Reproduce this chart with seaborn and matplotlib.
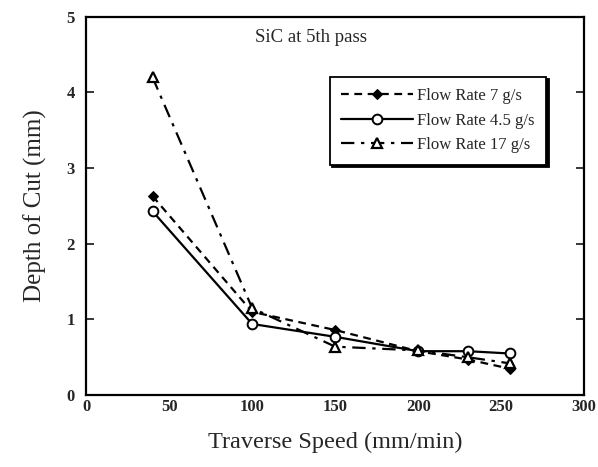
import matplotlib
matplotlib.use("Agg")
import matplotlib.pyplot as plt
import seaborn as sns
import pandas as pd

# Traverse speed (mm/min) and depth of cut (mm) for each abrasive flow rate
speed = [40, 100, 150, 200, 230, 255]
depth_7 = [2.63, 1.10, 0.86, 0.58, 0.47, 0.35]
depth_4_5 = [2.43, 0.94, 0.77, 0.58, 0.58, 0.55]
depth_17 = [4.2, 1.15, 0.64, 0.59, 0.50, 0.42]

series_labels = ["Flow Rate 7 g/s", "Flow Rate 4.5 g/s", "Flow Rate 17 g/s"]
x_ticks = [0, 50, 100, 150, 200, 250, 300]
y_ticks = [0, 1, 2, 3, 4, 5]

sns.set_theme(style="white")
plt.rcParams["font.family"] = ["Liberation Serif", "DejaVu Serif"]

frames = []
for lab, vals in zip(series_labels, [depth_7, depth_4_5, depth_17]):
    frames.append(pd.DataFrame({"speed": speed, "depth": vals, "series": lab}))
df = pd.concat(frames, ignore_index=True)

fig = plt.figure(figsize=(5.98, 4.67), dpi=100)
ax = fig.add_axes([0.144, 0.154, 0.833, 0.810])

styles = {
    "Flow Rate 7 g/s": dict(linestyle=(0, (3.5, 2.5)), marker="D", markersize=5.5,
                            markerfacecolor="black", markeredgecolor="black"),
    "Flow Rate 4.5 g/s": dict(linestyle="-", marker="o", markersize=7,
                              markerfacecolor="white", markeredgecolor="black",
                              markeredgewidth=1.4),
    "Flow Rate 17 g/s": dict(linestyle=(0, (6, 3, 1.5, 3)), marker="^", markersize=6.5,
                             markerfacecolor="white", markeredgecolor="black",
                             markeredgewidth=1.6),
}

for lab in series_labels:
    sub = df[df["series"] == lab]
    sns.lineplot(data=sub, x="speed", y="depth", ax=ax, color="black",
                 linewidth=1.6, label=lab, **styles[lab])

ax.set_xlim(0, 300)
ax.set_ylim(0, 5)
ax.set_xticks(x_ticks)
ax.set_yticks(y_ticks)
ax.set_xticklabels([str(t) for t in x_ticks], fontweight="bold", fontsize=12)
ax.set_yticklabels([str(t) for t in y_ticks], fontweight="bold", fontsize=12)
ax.tick_params(axis="y", direction="in", length=6, width=1.3, left=True, right=True, pad=8)
ax.tick_params(axis="x", length=0, pad=3)

for sp in ax.spines.values():
    sp.set_color("black")
    sp.set_linewidth(1.6)

ax.set_xlabel("Traverse Speed (mm/min)", fontsize=17.5, labelpad=12)
ax.set_ylabel("Depth of Cut (mm)", fontsize=18, labelpad=14)

ax.text(0.452, 0.968, "SiC at 5th pass", transform=ax.transAxes, ha="center",
        va="top", fontsize=13.5)

leg = ax.legend(loc="upper right", bbox_to_anchor=(0.924, 0.842), borderaxespad=0,
                fontsize=12, frameon=True, fancybox=False, edgecolor="black",
                handlelength=4.3, handletextpad=0.25, labelspacing=0.5, borderpad=0.7,
                shadow={"color": "black", "alpha": 1.0})
leg.get_frame().set_linewidth(1.3)

fig.savefig("out.png", dpi=100)
